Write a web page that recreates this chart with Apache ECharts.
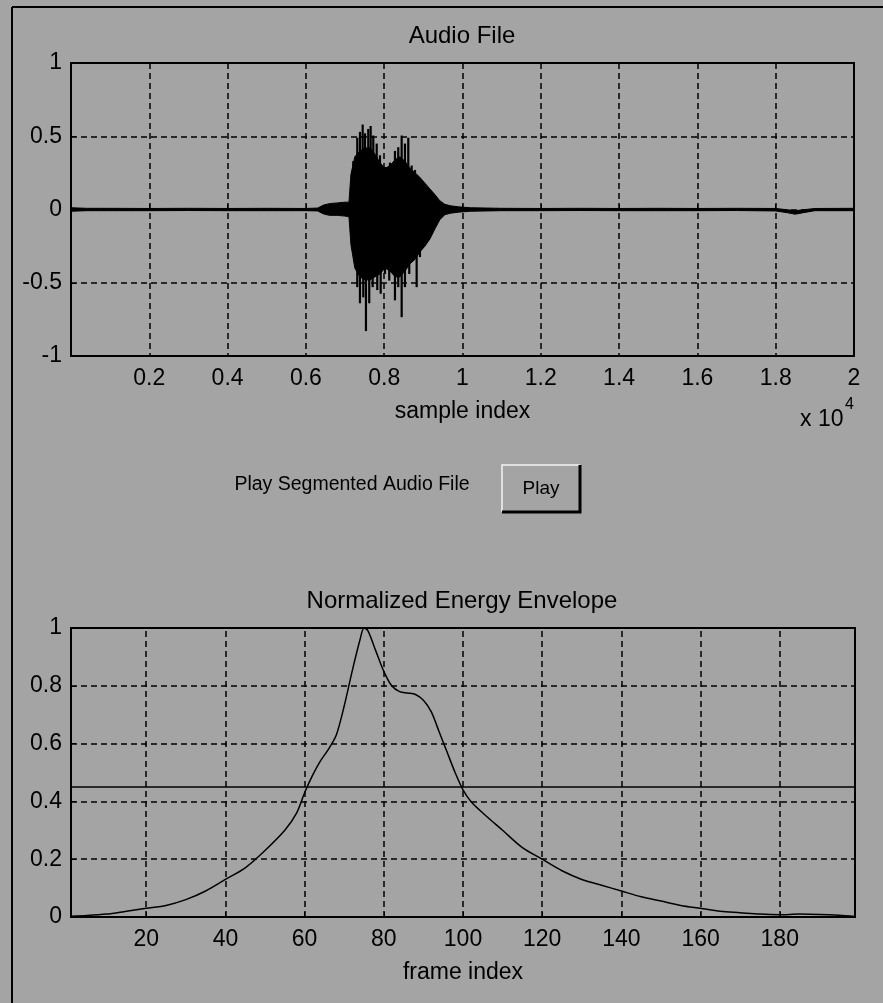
<!DOCTYPE html>
<html>
<head>
<meta charset="utf-8">
<script src="https://cdn.jsdelivr.net/npm/echarts@6/dist/echarts.min.js"></script>
<style>
html,body{margin:0;padding:0;background:#a4a4a4;}
#c{width:883px;height:1003px;}
</style>
</head>
<body>
<div id="c"></div>
<script>
// ---- Audio waveform (sample index, amplitude) ----
const audioEnvSamples = [0, 400, 1000, 2000, 3000, 4000, 5000, 6000, 6300, 6450, 6600, 6800, 7000, 7100, 7150, 7250, 7380, 7510, 7640, 7760, 7890, 8020, 8150, 8280, 8400, 8530, 8660, 8790, 8910, 9040, 9170, 9300, 9420, 9550, 9700, 9900, 10200, 11000, 12000, 13000, 14000, 15000, 16000, 17000, 18000, 18300, 18500, 18700, 19000, 20000];
const audioEnvUpper = [0.012, 0.008, 0.008, 0.007, 0.008, 0.007, 0.008, 0.007, 0.01, 0.03, 0.04, 0.045, 0.05, 0.05, 0.24, 0.36, 0.40, 0.42, 0.42, 0.38, 0.32, 0.28, 0.30, 0.34, 0.36, 0.33, 0.28, 0.25, 0.22, 0.18, 0.14, 0.10, 0.06, 0.035, 0.025, 0.018, 0.012, 0.008, 0.007, 0.008, 0.007, 0.008, 0.007, 0.008, 0.007, -0.002, -0.008, -0.002, 0.007, 0.008];
const audioEnvLower = [-0.012, -0.008, -0.008, -0.008, -0.007, -0.008, -0.008, -0.008, -0.01, -0.03, -0.04, -0.04, -0.045, -0.05, -0.24, -0.40, -0.46, -0.48, -0.48, -0.46, -0.44, -0.40, -0.42, -0.46, -0.46, -0.42, -0.37, -0.34, -0.29, -0.25, -0.20, -0.13, -0.07, -0.035, -0.025, -0.018, -0.012, -0.008, -0.008, -0.007, -0.008, -0.008, -0.008, -0.007, -0.01, -0.022, -0.032, -0.022, -0.008, -0.008];
const spikeUpSamples = [7210, 7312, 7381, 7450, 7509, 7593, 7654, 7721, 7808, 7892, 8020, 8147, 8275, 8359, 8446, 8530, 8615, 8701, 8786];
const spikeUpValues = [0.33, 0.49, 0.53, 0.58, 0.52, 0.55, 0.57, 0.505, 0.45, 0.37, 0.29, 0.32, 0.40, 0.425, 0.505, 0.45, 0.49, 0.30, 0.27];
const spikeDownSamples = [7228, 7312, 7381, 7466, 7534, 7618, 7705, 7823, 7910, 8020, 8129, 8275, 8359, 8446, 8530, 8640, 8727, 8829, 8913];
const spikeDownValues = [-0.26, -0.53, -0.64, -0.60, -0.83, -0.64, -0.53, -0.55, -0.575, -0.44, -0.485, -0.62, -0.53, -0.735, -0.53, -0.44, -0.325, -0.53, -0.325];

// ---- Normalized energy envelope ----
const frameIndex = [1, 5, 10, 15, 20, 25, 30, 35, 40, 45, 50, 55, 58, 60, 62, 64, 66, 68, 70, 72, 74, 75, 76, 78, 80, 82, 84, 86, 88, 90, 92, 94, 96, 98, 100, 102, 105, 110, 115, 120, 125, 130, 135, 140, 145, 150, 155, 160, 165, 170, 175, 180, 185, 190, 195, 199];
const energy = [0.003, 0.005, 0.01, 0.02, 0.03, 0.04, 0.06, 0.09, 0.13, 0.17, 0.23, 0.30, 0.36, 0.43, 0.49, 0.54, 0.58, 0.63, 0.73, 0.85, 0.96, 1.0, 0.99, 0.92, 0.85, 0.80, 0.78, 0.775, 0.77, 0.75, 0.71, 0.64, 0.57, 0.50, 0.44, 0.40, 0.36, 0.30, 0.24, 0.20, 0.16, 0.13, 0.11, 0.09, 0.07, 0.055, 0.04, 0.03, 0.02, 0.015, 0.01, 0.008, 0.01, 0.009, 0.006, 0.002];
const threshold = 0.45;
const frameTicks = [20, 40, 60, 80, 100, 120, 140, 160, 180];

const FONT = '"Liberation Sans", Arial, sans-serif';
const FS = 23;
const BG = '#a4a4a4';
const dash = {color: '#000', type: [6, 4], width: 1.5};
const lblStyle = {color: '#000', fontFamily: FONT, fontSize: FS};

const chart = echarts.init(document.getElementById('c'), null, {renderer: 'canvas'});

const spikeData = spikeUpSamples.map((s, i) => [s, spikeUpValues[i]])
  .concat(spikeDownSamples.map((s, i) => [s, spikeDownValues[i]]));

chart.setOption({
  animation: false,
  backgroundColor: BG,
  grid: [
    {left: 71, top: 63, width: 783, height: 293, show: true, borderColor: '#000', borderWidth: 2, backgroundColor: 'transparent'},
    {left: 71, top: 628, width: 784, height: 289, show: true, borderColor: '#000', borderWidth: 2, backgroundColor: 'transparent'}
  ],
  xAxis: [
    {type: 'value', gridIndex: 0, min: 0, max: 20000, interval: 2000,
     axisLine: {show: false}, axisTick: {show: true, inside: true, length: 5, lineStyle: {color: '#000'}},
     axisLabel: Object.assign({margin: 11, formatter: v => v === 0 ? '' : String(v / 10000)}, lblStyle),
     splitLine: {show: true, lineStyle: dash},
     name: 'sample index', nameLocation: 'middle', nameGap: 44, nameTextStyle: lblStyle},
    {type: 'value', gridIndex: 1, min: 1, max: 199,
     axisLine: {show: false},
     axisTick: {show: true, inside: true, length: 5, customValues: frameTicks, lineStyle: {color: '#000'}},
     axisLabel: Object.assign({margin: 11, customValues: frameTicks}, lblStyle),
     splitLine: {show: false},
     name: 'frame index', nameLocation: 'middle', nameGap: 44, nameTextStyle: lblStyle}
  ],
  yAxis: [
    {type: 'value', gridIndex: 0, min: -1, max: 1, interval: 0.5,
     axisLine: {show: false}, axisTick: {show: true, inside: true, length: 5, lineStyle: {color: '#000'}},
     axisLabel: Object.assign({margin: 9}, lblStyle),
     splitLine: {show: true, lineStyle: dash}},
    {type: 'value', gridIndex: 1, min: 0, max: 1, interval: 0.2,
     axisLine: {show: false}, axisTick: {show: true, inside: true, length: 5, lineStyle: {color: '#000'}},
     axisLabel: Object.assign({margin: 9}, lblStyle),
     splitLine: {show: true, lineStyle: dash}}
  ],
  series: [
    {type: 'custom', xAxisIndex: 0, yAxisIndex: 0, data: [[0, 0]], silent: true, clip: true,
     renderItem: function (params, api) {
       const pts = [];
       for (let i = 0; i < audioEnvSamples.length; i++) pts.push(api.coord([audioEnvSamples[i], audioEnvUpper[i]]));
       for (let i = audioEnvSamples.length - 1; i >= 0; i--) pts.push(api.coord([audioEnvSamples[i], audioEnvLower[i]]));
       return {type: 'polygon', shape: {points: pts}, style: {fill: '#000', stroke: '#000', lineWidth: 1}};
     }},
    {type: 'custom', xAxisIndex: 0, yAxisIndex: 0, data: spikeData, silent: true,
     renderItem: function (params, api) {
       const a = api.coord([api.value(0), 0]);
       const b = api.coord([api.value(0), api.value(1)]);
       return {type: 'line', shape: {x1: a[0], y1: a[1], x2: b[0], y2: b[1]}, style: {stroke: '#000', lineWidth: 2.2}};
     }},
    {type: 'line', xAxisIndex: 1, yAxisIndex: 1, data: frameIndex.map((f, i) => [f, energy[i]]),
     symbol: 'none', smooth: 0.3, lineStyle: {color: '#000', width: 1.5}, silent: true,
     markLine: {silent: true, symbol: 'none', label: {show: false}, animation: false,
       data: frameTicks.map(v => ({xAxis: v, lineStyle: dash}))
         .concat([{yAxis: threshold, lineStyle: {color: '#000', type: 'solid', width: 1.5}}])}}
  ],
  graphic: [
    {type: 'line', shape: {x1: 12, y1: 7, x2: 883, y2: 7}, style: {stroke: '#000', lineWidth: 2}},
    {type: 'line', shape: {x1: 12, y1: 7, x2: 12, y2: 1003}, style: {stroke: '#000', lineWidth: 2}},
    {type: 'text', x: 462, y: 36, style: {text: 'Audio File', fill: '#000', font: '24px ' + FONT, textAlign: 'center', textVerticalAlign: 'middle'}},
    {type: 'text', x: 462, y: 601, style: {text: 'Normalized Energy Envelope', fill: '#000', font: '24px ' + FONT, textAlign: 'center', textVerticalAlign: 'middle'}},
    {type: 'text', x: 800, y: 420, style: {text: 'x 10', fill: '#000', font: FS + 'px ' + FONT, textAlign: 'left', textVerticalAlign: 'middle'}},
    {type: 'text', x: 845, y: 405, style: {text: '4', fill: '#000', font: '16px ' + FONT, textAlign: 'left', textVerticalAlign: 'middle'}},
    {type: 'text', x: 352, y: 485, style: {text: 'Play Segmented Audio File', fill: '#000', font: '19.5px ' + FONT, textAlign: 'center', textVerticalAlign: 'middle'}},
    {type: 'rect', shape: {x: 502, y: 465, width: 78, height: 47}, style: {fill: BG, stroke: null}},
    {type: 'polyline', shape: {points: [[502, 512], [502, 465], [580, 465]]}, style: {stroke: '#f4f4f4', lineWidth: 1.5, fill: null}},
    {type: 'polyline', shape: {points: [[580, 465], [580, 512], [502, 512]]}, style: {stroke: '#000', lineWidth: 3, fill: null}},
    {type: 'text', x: 541, y: 489, style: {text: 'Play', fill: '#000', font: '19px ' + FONT, textAlign: 'center', textVerticalAlign: 'middle'}}
  ]
});
</script>
</body>
</html>
